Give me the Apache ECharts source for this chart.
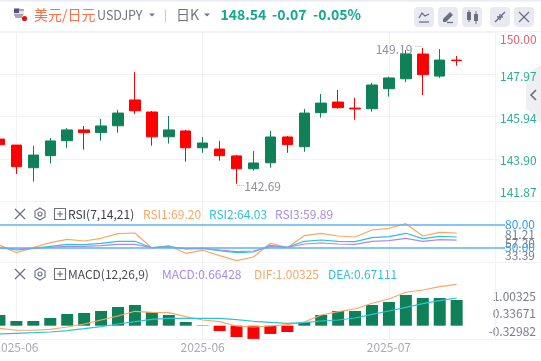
<!DOCTYPE html>
<html><head><meta charset="utf-8">
<style>html,body{margin:0;padding:0;background:#fff}#c{width:541px;height:361px}</style>
<script src="https://cdn.jsdelivr.net/npm/echarts@6/dist/echarts.min.js"></script>
</head><body><div id="c"></div>
<script>
const dates=['2025-06-05','2025-06-06','2025-06-09','2025-06-10','2025-06-11','2025-06-12','2025-06-13','2025-06-16','2025-06-17','2025-06-18','2025-06-19','2025-06-20','2025-06-23','2025-06-24','2025-06-25','2025-06-26','2025-06-27','2025-06-30','2025-07-01','2025-07-02','2025-07-03','2025-07-04','2025-07-07','2025-07-08','2025-07-09','2025-07-10','2025-07-11','2025-07-14','',''];
const open =[144.85,144.56,143.47,144.05,144.77,145.29,145.16,145.49,146.73,146.15,144.96,145.24,144.43,144.37,144.04,143.42,143.71,144.95,144.48,146.12,146.63,146.34,146.31,147.27,147.75,148.94,147.88,148.65];
const close=[144.58,143.52,144.08,144.76,145.29,145.16,145.48,146.10,146.21,144.96,145.29,144.43,144.66,144.05,143.42,143.70,144.95,144.58,146.10,146.58,146.36,146.30,147.45,147.79,148.94,147.95,148.65,148.62];
const low  =[144.58,143.17,142.80,143.67,144.43,144.34,144.77,145.16,146.06,144.53,144.63,143.76,144.19,143.81,142.70,143.33,143.47,144.19,144.24,145.88,146.31,145.78,146.17,146.89,147.59,146.97,147.79,148.38];
const high =[144.85,144.56,144.52,144.90,145.38,145.48,145.82,146.26,148.08,146.20,145.96,145.29,144.95,144.76,144.08,144.28,145.25,145.00,146.30,147.02,147.21,146.83,147.55,147.85,149.13,149.23,149.18,148.85];
const rsi1=[53.69,43.74,50.2,56.66,61.05,58.86,62.35,68.29,69.19,49.81,52.79,42.97,46.84,39.87,33.39,38.19,55.89,50.2,65.71,68.81,65.32,64.03,73.07,75.27,81.21,65.32,70.1,69.2];
const rsi2=[50.2,47.2,49.43,52.01,54.59,54.08,55.89,58.47,58.47,50.2,52.01,48.52,49.43,46.33,43.74,44.65,53.3,50.72,58.47,60.15,58.47,57.95,63.12,64.41,68.81,61.83,64.93,64.03];
const rsi3=[50.2,48.52,49.43,50.72,52.01,52.01,52.79,54.59,54.59,50.2,51.11,48.91,49.43,47.23,45.03,45.94,51.5,50.72,54.98,56.27,54.98,54.59,58.47,59.25,62.35,58.47,60.54,59.89];
const macd=[.259,.114,.114,.187,.284,.308,.356,.453,.502,.332,.259,.09,.01,-.128,-.274,-.32,-.2,-.153,.09,.259,.356,.356,.502,.574,.744,.671,.671,.623];
const dif=[-.063,-.111,-.111,-.087,-.032,.041,.138,.235,.349,.325,.315,.218,.138,.097,-.007,-.032,-.007,.024,.09,.259,.339,.405,.543,.647,.81,.865,.945,1.00325];
const dea=[-.201,-.184,-.17,-.153,-.121,-.073,-.024,.041,.097,.155,.179,.179,.179,.179,.145,.107,.082,.058,.073,.114,.138,.187,.276,.356,.446,.533,.606,.67111];
const priceTicks=[141.87,143.90,145.94,147.97,150.00];
const rsiTicks=['81.21','57.30','33.39'];
const rsiBands=[80,50];
const macdTicks=[-0.32982,0.33671,1.00325];

const GREEN='#108058',RED='#ff0000',ORANGE='#f8a764',CYAN='#2fc1dc',PURPLE='#a98ce8',BLUE='#5fb0f5',LINE='#f2f2f6';
const FONT='"Noto Sans CJK SC","Noto Sans",sans-serif';
const kData=open.map((o,i)=>[o,close[i],low[i],high[i]]);
const markEvery=(i)=>(i-1)%11===0&&i<24;
const xBase=(gi,showLabel)=>({type:'category',gridIndex:gi,data:dates,boundaryGap:true,
  axisLine:{show:false},axisTick:{show:false},
  axisLabel:showLabel?{show:true,interval:(i)=>markEvery(i),hideOverlap:false,formatter:v=>v.slice(0,7),color:'#a9a9b5',fontSize:12,fontFamily:FONT,margin:2}:{show:false},
  splitLine:{show:true,alignWithLabel:true,interval:(i)=>markEvery(i),lineStyle:{color:LINE,width:1}}});
const lab=(ax)=>Object.assign({type:'value',position:'right',splitLine:{show:false},axisLine:{show:false},axisTick:{show:false},scale:true},ax);

const txt=(x,y,s,fill,size,weight,z)=>({type:'text',x,y,z:z||20,style:{text:s,fill,font:(weight||'normal')+' '+size+'px '+FONT,verticalAlign:'middle'}});
const btn=(x)=>({type:'rect',shape:{x,y:7,width:20,height:20,r:4},style:{fill:'#e9eaf1'},z:10});
const pl=(pts,w)=>({type:'polyline',z:11,shape:{points:pts},style:{stroke:'#6c6f80',fill:null,lineWidth:w||1.3}});
const cross=(cx,cy,r)=>[pl([[cx-r,cy-r],[cx+r,cy+r]],1.2),pl([[cx+r,cy-r],[cx-r,cy+r]],1.2)];
const tools=(y)=>[...cross(20,y,5),
 {type:'polygon',z:11,shape:{points:[[40,y-6],[45,y-3],[45,y+3],[40,y+6],[35,y+3],[35,y-3]]},style:{stroke:'#6c6f80',fill:'none',lineWidth:1.1}},
 {type:'circle',z:11,shape:{cx:40,cy:y,r:2},style:{stroke:'#6c6f80',fill:'none',lineWidth:1.1}},
 {type:'rect',z:11,shape:{x:54.5,y:y-5.5,width:11,height:11},style:{stroke:'#6c6f80',fill:'none',lineWidth:1.1}},
 pl([[57,y],[63,y]],1.1),pl([[60,y-3],[60,y+3]],1.1)];
const hline=(y)=>({type:'line',z:1,shape:{x1:0,y1:y,x2:541,y2:y},style:{stroke:LINE,lineWidth:1}});

const graphic=[
 {type:'rect',z:1,shape:{x:0,y:0,width:541,height:1.5},style:{fill:'#e9ebf2'}},
 hline(31.5),hline(201.5),hline(262.5),hline(339.5),
 {type:'line',z:1,shape:{x1:495.5,y1:32,x2:495.5,y2:340},style:{stroke:LINE,lineWidth:1}},
 {type:'polygon',z:-1,shape:{points:[[526,74],[541,65],[541,124],[526,108]]},style:{fill:'#eeeef3'}},
 pl([[536,90],[531,95],[536,100]],1.6),
 {type:'circle',z:10,shape:{cx:19,cy:13,r:5},style:{fill:'#e9dfe4'}},
 {type:'rect',z:11,shape:{x:14,y:8.5,width:5,height:4.5},style:{fill:'#56508a'}},
 pl([[19,10],[24,10]],1),pl([[14,15],[23,15]],1),pl([[15,17],[22,17]],1),
 {type:'circle',z:12,shape:{cx:24.5,cy:18.5,r:2.6},style:{fill:'#f01010'}},
 txt(34,14.5,'美元/日元','#ff6f45',14),
 txt(97,15.5,'USDJPY','#72747f',12.5),
 {type:'polygon',z:11,shape:{points:[[149,13.5],[155,13.5],[152,16.5]]},style:{fill:'#72747f'}},
 {type:'line',z:11,shape:{x1:165.5,y1:9,x2:165.5,y2:22},style:{stroke:'#ccced6',lineWidth:1}},
 txt(176,14.5,'日K','#72747f',14),
 {type:'polygon',z:11,shape:{points:[[204,13.5],[210,13.5],[207,16.5]]},style:{fill:'#72747f'}},
 txt(220.5,14.5,'148.54','#10a98c',14,'bold'),
 txt(272,14.5,'-0.07','#10a98c',14,'bold'),
 txt(313,14.5,'-0.05%','#10a98c',14,'bold'),
 btn(414),btn(438),btn(462),btn(490),btn(514),
 pl([[419,18],[422,13],[425,16],[429,14]],1.3),pl([[419,22],[429,22]],1.3),
 {type:'polygon',z:11,shape:{points:[[443,19],[450,12],[453,15],[446,22],[443,22]]},style:{fill:'#6c6f80'}},
 pl([[447,22.5],[453,22.5]],1.3),
 {type:'rect',z:11,shape:{x:467,y:12,width:4,height:8},style:{fill:'#6c6f80'}},
 {type:'rect',z:11,shape:{x:474,y:14,width:4,height:7},style:{fill:'#6c6f80'}},
 pl([[469,10],[469,22]],1),pl([[476,11],[476,24]],1),
 pl([[495,22],[499,18]],1.4),pl([[497,17],[500,17],[500,20]],1.4),pl([[505,12],[501,16]],1.4),pl([[503,17],[500,17],[500,14]],1.4),
 ...cross(524,17,5),
 ...tools(214),...tools(274),
 txt(68,214,'RSI(7,14,21)','#3c3e48',12),
 txt(143,214,'RSI1:69.20',ORANGE,12),
 txt(209,214,'RSI2:64.03',CYAN,12),
 txt(275,214,'RSI3:59.89',PURPLE,12),
 txt(68,274,'MACD(12,26,9)','#4a4c56',12),
 txt(162,274,'MACD:0.66428',PURPLE,12),
 txt(254,274,'DIF:1.00325',ORANGE,12),
 txt(328,274,'DEA:0.67111',CYAN,12),
 txt(505,234.5,rsiTicks[0],'#7b7d88',12,'normal',1),
 txt(505,243,rsiTicks[1],'#7b7d88',12,'normal',1),
 txt(505,255,rsiTicks[2],'#7b7d88',12,'normal',1)
];
const TEAL='#2fae94';
const gridBase={left:-9,width:508,outerBoundsMode:'none',containLabel:false};
const option={animation:false,backgroundColor:'#fff',textStyle:{fontFamily:FONT},graphic,
 grid:[{...gridBase,top:32,height:169},{...gridBase,top:201,height:61},{...gridBase,top:262,height:77.3}],
 xAxis:[xBase(0,false),xBase(1,false),xBase(2,true)],
 yAxis:[
  {type:'value',gridIndex:0,position:'right',min:141.87,max:150,scale:true,axisLine:{show:false},axisTick:{show:false,customValues:priceTicks},
   splitLine:{show:true,lineStyle:{color:LINE}},
   axisLabel:{customValues:priceTicks,margin:1,hideOverlap:false,fontSize:12,fontFamily:FONT,
     formatter:v=>{const s=v.toFixed(2);return v>=150?`{t|${s}}`:v<=141.87?`{b|${s}}`:`{m|${s}}`;},
     rich:{t:{color:'#e4606f',fontSize:12,fontFamily:FONT,padding:[14,0,0,0]},
           m:{color:TEAL,fontSize:12,fontFamily:FONT,padding:[4,0,0,0]},
           b:{color:TEAL,fontSize:12,fontFamily:FONT,padding:[0,0,18,0]}}}},
  {type:'value',gridIndex:1,position:'right',min:31.71,max:110.54,axisLine:{show:false},axisTick:{show:false},splitLine:{show:false},axisLabel:{show:false}},
  {type:'value',gridIndex:2,position:'right',min:-0.32982,max:1.5437,axisLine:{show:false},axisTick:{show:false},splitLine:{show:false},axisLabel:{show:false}},
  lab({gridIndex:2,min:-0.6487,max:2.321,axisLabel:{customValues:macdTicks,hideOverlap:false,margin:37,align:'right',fontSize:12,fontFamily:FONT,color:'#7b7d88',formatter:v=>v.toFixed(5)}})
 ],
 series:[
  {type:'candlestick',xAxisIndex:0,yAxisIndex:0,barWidth:11,data:kData,
   itemStyle:{color:GREEN,color0:RED,borderColor:GREEN,borderColor0:RED,borderWidth:1},
   markPoint:{symbol:'circle',symbolSize:0,silent:true,data:[
     {coord:[25,149.23],label:{show:true,position:'left',distance:0,offset:[0,1],formatter:'149.19 {d|....}',color:'#8d8e99',fontSize:12,fontFamily:FONT,rich:{d:{fontSize:7,color:'#8d8e99',padding:[0,0,9,0]}}}},
     {coord:[14,142.70],label:{show:true,position:'right',distance:0,offset:[0,3],formatter:'{d|....}142.69',color:'#8d8e99',fontSize:12,fontFamily:FONT,rich:{d:{fontSize:7,color:'#8d8e99',padding:[0,0,6,0]}}}}
   ]}},
  {type:'line',xAxisIndex:1,yAxisIndex:1,data:rsi1,showSymbol:false,lineStyle:{color:ORANGE,width:1.2},
   markLine:{silent:true,symbol:'none',animation:false,data:rsiBands.map(b=>[
     {x:0,yAxis:b,lineStyle:{color:BLUE,width:1.5,type:'solid'},label:{show:true,position:'end',distance:0,formatter:b.toFixed(2),color:'#2f9cf5',fontSize:12,fontFamily:FONT}},
     {x:505,yAxis:b}])}},
  {type:'line',xAxisIndex:1,yAxisIndex:1,data:rsi2,showSymbol:false,lineStyle:{color:CYAN,width:1.2}},
  {type:'line',xAxisIndex:1,yAxisIndex:1,data:rsi3,showSymbol:false,lineStyle:{color:PURPLE,width:1.2}},
  {type:'bar',xAxisIndex:2,yAxisIndex:2,data:macd,barWidth:12,itemStyle:{color:p=>p.value>=0?GREEN:RED}},
  {type:'line',xAxisIndex:2,yAxisIndex:2,data:dif,showSymbol:false,lineStyle:{color:ORANGE,width:1.2}},
  {type:'line',xAxisIndex:2,yAxisIndex:2,data:dea,showSymbol:false,lineStyle:{color:CYAN,width:1.2}}
 ]};
echarts.init(document.getElementById('c'),null,{renderer:'canvas'}).setOption(option);
</script></body></html>
